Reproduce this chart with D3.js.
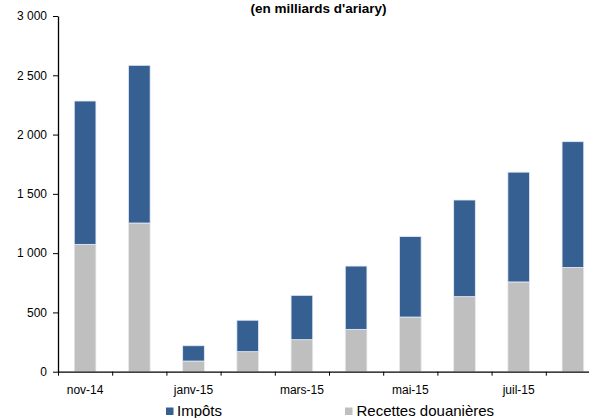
<!DOCTYPE html>
<html>
<head>
<meta charset="utf-8">
<script src="https://cdn.jsdelivr.net/npm/d3@7"></script>
<style>
  html, body { margin: 0; padding: 0; background: #fff; }
  svg { display: block; font-family: "Liberation Sans", Arial, sans-serif; }
</style>
</head>
<body>
<svg id="chart" width="589" height="418"></svg>
<script>
const months = ["nov-14","déc-14","janv-15","févr-15","mars-15","avr-15","mai-15","juin-15","juil-15","août-15"];
const recettesDouanieres = [1074, 1254, 90, 169, 270, 357, 461, 633, 757, 879];
const totals = [2283, 2584, 219, 434, 644, 891, 1140, 1448, 1683, 1940];
const impots = totals.map((t, i) => t - recettesDouanieres[i]);
const yTicks = [0, 500, 1000, 1500, 2000, 2500, 3000];
const shownLabels = ["nov-14","janv-15","mars-15","mai-15","juil-15"];
const seriesNames = ["Impôts", "Recettes douanières"];
const colors = {"Impôts": "#366092", "Recettes douanières": "#bfbfbf"};

const svg = d3.select("#chart");
const x0 = 58, x1 = 600, yBottom = 371.7, yTop = 16;

const x = d3.scaleBand().domain(months).range([x0, x1]).paddingInner(0.6).paddingOuter(0.3);
const xb = d3.scaleLinear().domain([0, months.length]).range([x0, x1]);
const y = d3.scaleLinear().domain([0, 3000]).range([yBottom, yTop]);

const fmt = d3.formatLocale({decimal: ",", thousands: " ", grouping: [3], currency: ["", ""]}).format(",");

const rows = months.map((m, i) => ({month: m, "Recettes douanières": recettesDouanieres[i], "Impôts": impots[i]}));
const stack = d3.stack().keys(["Recettes douanières", "Impôts"]);
const layers = stack(rows);

svg.append("g").selectAll("g").data(layers).join("g")
  .attr("fill", d => colors[d.key])
  .selectAll("rect").data(d => d).join("rect")
  .attr("x", d => x(d.data.month))
  .attr("width", x.bandwidth())
  .attr("y", d => y(d[1]))
  .attr("height", d => y(d[0]) - y(d[1]))
  .attr("stroke", "#e6ecf4")
  .attr("stroke-width", 0.8);

const yAxis = svg.append("g").attr("transform", `translate(${x0},0)`)
  .call(d3.axisLeft(y).tickValues(yTicks).tickFormat(fmt).tickSize(5).tickSizeOuter(0).tickPadding(6));
yAxis.select(".domain").attr("stroke", "#000").attr("stroke-width", 1.3);
yAxis.selectAll(".tick line").attr("stroke", "#000");
yAxis.selectAll("text").attr("font-size", 12).attr("fill", "#000")
  .attr("font-family", "'Liberation Sans', Arial, sans-serif");

const xTickAxis = svg.append("g").attr("transform", `translate(0,${yBottom})`)
  .call(d3.axisBottom(xb).tickValues(d3.range(months.length + 1)).tickFormat("").tickSize(4).tickSizeOuter(0));
xTickAxis.select(".domain").attr("stroke", "#000").attr("stroke-width", 1.3);
xTickAxis.selectAll(".tick line").attr("stroke", "#000");

const xLabAxis = svg.append("g").attr("transform", `translate(0,${yBottom})`)
  .call(d3.axisBottom(x).tickSize(0).tickPadding(14).tickFormat(d => shownLabels.includes(d) ? d : ""));
xLabAxis.select(".domain").remove();
xLabAxis.selectAll("text").attr("font-size", 12).attr("fill", "#000")
  .attr("font-family", "'Liberation Sans', Arial, sans-serif");

svg.append("text").attr("x", 318.5).attr("y", 12.5).attr("text-anchor", "middle")
  .attr("font-size", 13.5).attr("font-weight", "bold").attr("fill", "#000")
  .text("(en milliards d'ariary)");

const legendPos = [{sx: 166, tx: 177}, {sx: 345, tx: 356.5}];
const lg = svg.append("g");
seriesNames.forEach((name, i) => {
  lg.append("rect").attr("x", legendPos[i].sx).attr("y", 407.5).attr("width", 7.5).attr("height", 7.5)
    .attr("fill", colors[name]);
  lg.append("text").attr("x", legendPos[i].tx).attr("y", 416).attr("font-size", 15).attr("fill", "#000")
    .text(name);
});
</script>
</body>
</html>
